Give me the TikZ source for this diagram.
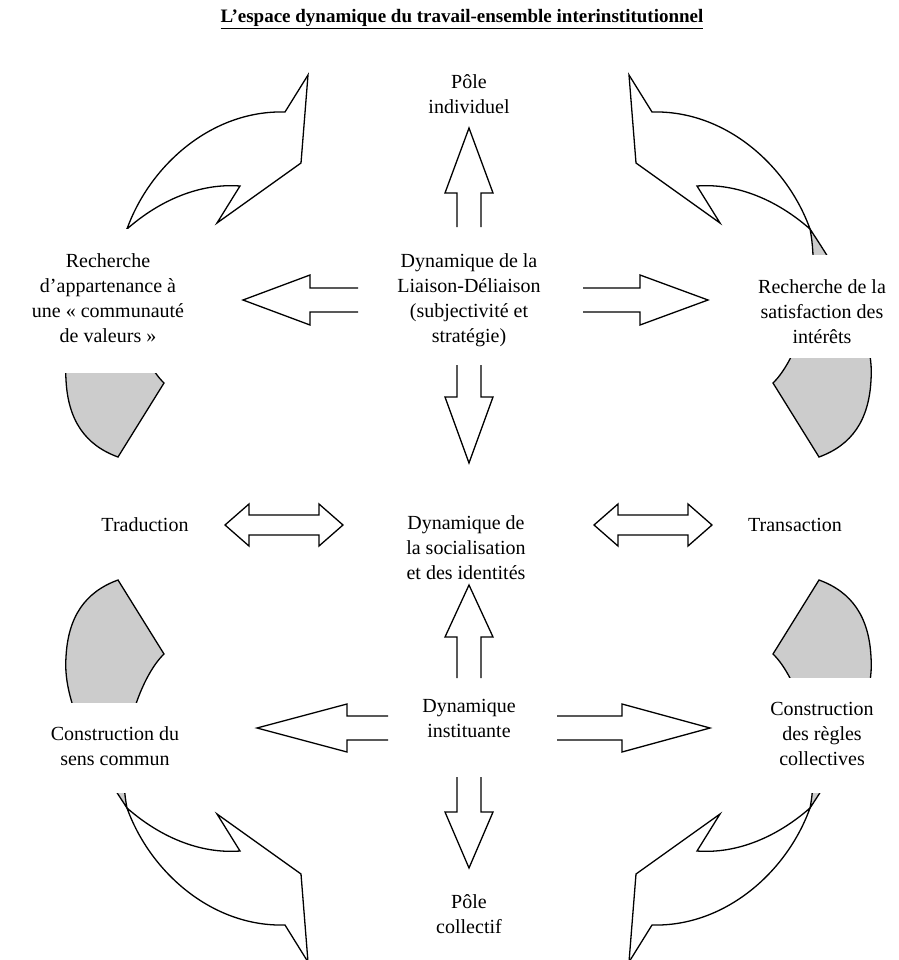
\documentclass[tikz,border=0pt]{standalone}
\usepackage{fontspec}
\setmainfont{Liberation Serif}
\newcommand\quadpiece{%
  \draw[back] (127,229) .. controls (100,270) and (62,330) .. (66,380) .. controls (68,420) and (85,445) .. (118,457) -- (164,383) .. controls (140,360) and (115,290) .. (127,229) -- cycle;
  \draw[front] (127,229) .. controls (150,165) and (212,110) .. (285,112) -- (308,75) -- (301,163) -- (217,223) -- (240,186) .. controls (200,183) and (160,200) .. (127,229) -- cycle;
}
% #1 tip, #2 rotation, #3 head length, #4 head half width, #5 total length
\newcommand\blockarr[5]{%
  \draw[front,shift={#1},rotate=#2] (-#5,12) -- (-#3,12) -- (-#3,#4) -- (0,0) -- (-#3,-#4) -- (-#3,-12) -- (-#5,-12);
}
\newcommand\dblarr[2]{% #1 left tip, #2 total length
  \draw[front,shift={#1}] (0,0) -- (24,-21) -- (24,-10) -- (#2-24,-10) -- (#2-24,-21) -- (#2,0) -- (#2-24,21) -- (#2-24,10) -- (24,10) -- (24,21) -- cycle;
}
\begin{document}
\begin{tikzpicture}[x=1pt,y=-1pt,
  lbl/.style={align=center,font=\fontsize{20}{25}\selectfont,inner sep=0pt},
  front/.style={draw=black,line width=1.3pt,fill=white,line join=miter},
  back/.style={draw=black,line width=1.3pt,fill=black!20}]
\useasboundingbox (0,0) rectangle (898,960);
\fill[white] (0,0) rectangle (898,960);

% curved ribbon arrows
\quadpiece
\begin{scope}[xshift=937pt,xscale=-1]\quadpiece\end{scope}
\begin{scope}[yshift=-1037pt,yscale=-1]\quadpiece\end{scope}
\begin{scope}[xshift=937pt,yshift=-1037pt,xscale=-1,yscale=-1]\quadpiece\end{scope}

% white text boxes hiding parts of the ribbons
\fill[white] (20,229) rectangle (232,373);
\fill[white] (715,255) rectangle (898,358);
\fill[white] (20,703) rectangle (232,793);
\fill[white] (715,678) rectangle (898,793);

% block arrows
\blockarr{(469,128)}{90}{65}{24}{99}
\blockarr{(243,300)}{180}{67}{25}{115}
\blockarr{(708,300)}{0}{68}{25}{125}
\blockarr{(469,463)}{-90}{66}{24}{98}
\dblarr{(225,525)}{118}
\dblarr{(594,525)}{118}
\blockarr{(469,585)}{90}{52}{24}{93}
\blockarr{(257,728)}{180}{90}{24}{131}
\blockarr{(710,728)}{0}{88}{24}{153}
\blockarr{(469,868)}{-90}{56}{24}{91}

% texts
\node[font=\fontsize{19}{23}\selectfont\bfseries] (title) at (462,19) {\underline{L'espace dynamique du travail-ensemble interinstitutionnel}};
\node[lbl] (poleind) at (469,94) {Pôle\\individuel};
\node[lbl] (liaison) at (469,300) {Dynamique de la\\Liaison-Déliaison\\(subjectivité et\\stratégie)};
\node[lbl] (socia) at (466,548) {Dynamique de\\la socialisation\\et des identités};
\node[lbl] (instit) at (469,718) {Dynamique\\instituante};
\node[lbl] (polecol) at (469,914) {Pôle\\collectif};
\node[lbl] (rap) at (108,298) {Recherche\\d'appartenance à\\une « communauté\\de valeurs »};
\node[lbl] (rsat) at (822,312) {Recherche de la\\satisfaction des\\intérêts};
\node[lbl] (trad) at (145,525) {Traduction};
\node[lbl] (trans) at (795,525) {Transaction};
\node[lbl] (csc) at (115,746) {Construction du\\sens commun};
\node[lbl] (crc) at (822,734) {Construction\\des règles\\collectives};
\end{tikzpicture}
\end{document}
